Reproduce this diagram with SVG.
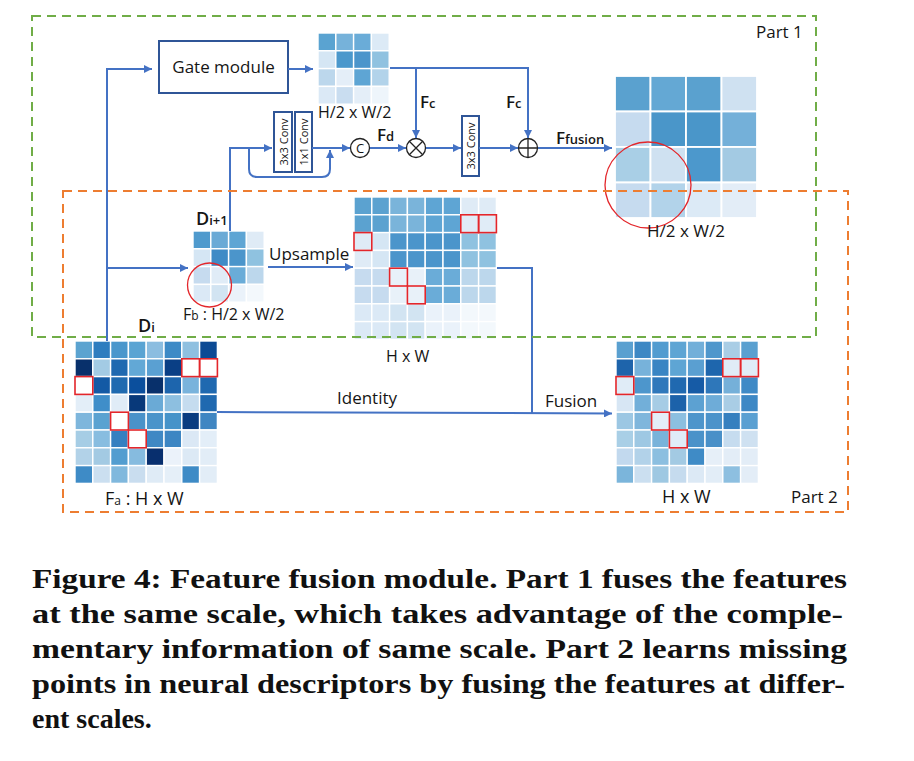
<svg xmlns="http://www.w3.org/2000/svg" width="914" height="761" viewBox="0 0 914 761">
<defs>
<style>
.c{width:17.8px;height:17.8px;stroke:#fff;stroke-width:1.4}
.cb{width:35.5px;height:35.5px;stroke:#fff;stroke-width:1.8}
.r{width:17.8px;height:17.8px;fill:none;stroke:#e3262b;stroke-width:1.6}
.ln{fill:none;stroke:#4472c4;stroke-width:2}
.box{fill:#fff;stroke:#2f5597;stroke-width:2}
.t{font-family:"Open Sans","Liberation Sans",sans-serif;fill:#151515}
.b{font-weight:600}
.cap{font-family:"Liberation Serif",serif;font-weight:bold;font-size:28px;fill:#111}
.circ{fill:none;stroke:#e3262b;stroke-width:1.3}
.op{fill:#fff;stroke:#222;stroke-width:1.3}
</style>
<marker id="ah" viewBox="0 0 10 10" refX="10" refY="5" markerWidth="4" markerHeight="4" orient="auto" markerUnits="strokeWidth">
<path d="M0,0 L10,5 L0,10 z" fill="#4472c4"/>
</marker>
</defs>
<rect width="914" height="761" fill="#fff"/>

<!-- Gate module -->
<g id="gate">
<rect class="box" x="159" y="41" width="129" height="52"/>
<text class="t" x="223.5" y="73" font-size="17" text-anchor="middle">Gate module</text>
</g>

<!-- top small matrix -->
<g id="gate-out" transform="translate(318,33)">
<g><rect class="c" x="0" fill="#5aa3d1"/><rect class="c" x="17.8" fill="#76b2da"/><rect class="c" x="35.6" fill="#6aacd8"/><rect class="c" x="53.4" fill="#dceaf6"/></g>
<g transform="translate(0,17.8)"><rect class="c" x="0" fill="#d5e6f4"/><rect class="c" x="17.8" fill="#4b98cc"/><rect class="c" x="35.6" fill="#4b95cb"/><rect class="c" x="53.4" fill="#90c2e0"/></g>
<g transform="translate(0,35.6)"><rect class="c" x="0" fill="#bcd7ec"/><rect class="c" x="17.8" fill="#e4eef8"/><rect class="c" x="35.6" fill="#5ea5d4"/><rect class="c" x="53.4" fill="#b2d3ea"/></g>
<g transform="translate(0,53.4)"><rect class="c" x="0" fill="#dbe9f6"/><rect class="c" x="17.8" fill="#c9ddf0"/><rect class="c" x="35.6" fill="#e4eef8"/><rect class="c" x="53.4" fill="#eef5fb"/></g>
<text class="t" x="0" y="85" font-size="16">H/2 x W/2</text>
</g>

<!-- conv boxes -->
<g id="conv3x3a">
<rect class="box" x="274" y="112" width="18" height="60"/>
<text class="t" transform="translate(283,142) rotate(-90)" font-size="11" text-anchor="middle" dominant-baseline="central">3x3 Conv</text>
</g>
<g id="conv1x1">
<rect class="box" x="295" y="112" width="17" height="60"/>
<text class="t" transform="translate(303.5,142) rotate(-90)" font-size="11" text-anchor="middle" dominant-baseline="central">1x1 Conv</text>
</g>
<g id="conv3x3b">
<rect class="box" x="462" y="116" width="17" height="60"/>
<text class="t" transform="translate(470.5,146) rotate(-90)" font-size="11" text-anchor="middle" dominant-baseline="central">3x3 Conv</text>
</g>

<!-- operators -->
<g id="concat">
<circle class="op" cx="360" cy="148" r="9.5"/>
<text class="t" x="360" y="148" font-size="13" text-anchor="middle" dominant-baseline="central">C</text>
</g>
<g id="mult">
<circle class="op" cx="416" cy="148" r="9.5"/>
<path d="M409.3,141.3 L422.7,154.7 M422.7,141.3 L409.3,154.7" stroke="#222" stroke-width="1.3"/>
</g>
<g id="add">
<circle class="op" cx="528" cy="148" r="9.5"/>
<path d="M518.5,148 L537.5,148 M528,138.5 L528,157.5" stroke="#222" stroke-width="1.3"/>
</g>

<!-- big fusion matrix -->
<g id="fusion-out" transform="translate(615,76)">
<g><rect class="cb" x="0" fill="#5aa1cf"/><rect class="cb" x="35.5" fill="#64a8d4"/><rect class="cb" x="71" fill="#5aa1cf"/><rect class="cb" x="106.5" fill="#cfe1f1"/></g>
<g transform="translate(0,35.5)"><rect class="cb" x="0" fill="#c6dbef"/><rect class="cb" x="35.5" fill="#4a96c9"/><rect class="cb" x="71" fill="#4a96c9"/><rect class="cb" x="106.5" fill="#74b0d9"/></g>
<g transform="translate(0,71)"><rect class="cb" x="0" fill="#a9cfe6"/><rect class="cb" x="35.5" fill="#cfe1f1"/><rect class="cb" x="71" fill="#4c98cc"/><rect class="cb" x="106.5" fill="#a3cae3"/></g>
<g transform="translate(0,106.5)"><rect class="cb" x="0" fill="#c6dbef"/><rect class="cb" x="35.5" fill="#b2d3ea"/><rect class="cb" x="71" fill="#dceaf6"/><rect class="cb" x="106.5" fill="#e3edf7"/></g>
<circle class="circ" cx="33" cy="109" r="43"/>
<text class="t" x="32" y="161" font-size="17">H/2 x W/2</text>
</g>

<!-- D i+1 matrix -->
<g id="d-i1" transform="translate(193,231)">
<g><rect class="c" x="0" fill="#4f9acd"/><rect class="c" x="17.8" fill="#6aaad6"/><rect class="c" x="35.6" fill="#5ea5d4"/><rect class="c" x="53.4" fill="#dfebf6"/></g>
<g transform="translate(0,17.8)"><rect class="c" x="0" fill="#d5e6f4"/><rect class="c" x="17.8" fill="#3f8bc6"/><rect class="c" x="35.6" fill="#4b95cb"/><rect class="c" x="53.4" fill="#8fc2e0"/></g>
<g transform="translate(0,35.6)"><rect class="c" x="0" fill="#c6dbef"/><rect class="c" x="17.8" fill="#e0ecf7"/><rect class="c" x="35.6" fill="#6aacd8"/><rect class="c" x="53.4" fill="#bcd7ec"/></g>
<g transform="translate(0,53.4)"><rect class="c" x="0" fill="#dbe9f6"/><rect class="c" x="17.8" fill="#d2e4f2"/><rect class="c" x="35.6" fill="#eaf2fa"/><rect class="c" x="53.4" fill="#f3f8fc"/></g>
<circle class="circ" cx="16.5" cy="54" r="22"/>
<text class="t b" x="3" y="-6"><tspan font-size="18">D</tspan><tspan font-size="13">i+1</tspan></text>
<text class="t" x="-10" y="89"><tspan font-size="16">F</tspan><tspan font-size="12">b</tspan><tspan font-size="16"> : H/2 x W/2</tspan></text>
</g>

<!-- upsampled matrix -->
<g id="upsampled" transform="translate(354,197)">
<g><rect class="c" x="0" fill="#5ba2d0"/><rect class="c" x="17.8" fill="#5ba2d0"/><rect class="c" x="35.6" fill="#7ab4da"/><rect class="c" x="53.4" fill="#7ab4da"/><rect class="c" x="71.2" fill="#5ea5d4"/><rect class="c" x="89" fill="#5ea5d4"/><rect class="c" x="106.8" fill="#dfebf6"/><rect class="c" x="124.6" fill="#dfebf6"/></g>
<g transform="translate(0,17.8)"><rect class="c" x="0" fill="#5ba2d0"/><rect class="c" x="17.8" fill="#5ba2d0"/><rect class="c" x="35.6" fill="#7ab4da"/><rect class="c" x="53.4" fill="#7ab4da"/><rect class="c" x="71.2" fill="#5ea5d4"/><rect class="c" x="89" fill="#5ea5d4"/><rect class="c" x="106.8" fill="#e0ecf7"/><rect class="c" x="124.6" fill="#e0ecf7"/></g>
<g transform="translate(0,35.6)"><rect class="c" x="0" fill="#dfebf6"/><rect class="c" x="17.8" fill="#d5e6f4"/><rect class="c" x="35.6" fill="#4b95cb"/><rect class="c" x="53.4" fill="#4b95cb"/><rect class="c" x="71.2" fill="#4b95cb"/><rect class="c" x="89" fill="#4b95cb"/><rect class="c" x="106.8" fill="#8fc2e0"/><rect class="c" x="124.6" fill="#8fc2e0"/></g>
<g transform="translate(0,53.4)"><rect class="c" x="0" fill="#dfebf6"/><rect class="c" x="17.8" fill="#d5e6f4"/><rect class="c" x="35.6" fill="#4b95cb"/><rect class="c" x="53.4" fill="#4b95cb"/><rect class="c" x="71.2" fill="#4b95cb"/><rect class="c" x="89" fill="#4b95cb"/><rect class="c" x="106.8" fill="#8fc2e0"/><rect class="c" x="124.6" fill="#8fc2e0"/></g>
<g transform="translate(0,71.2)"><rect class="c" x="0" fill="#c6dbef"/><rect class="c" x="17.8" fill="#c6dbef"/><rect class="c" x="35.6" fill="#e8f1f9"/><rect class="c" x="53.4" fill="#e8f1f9"/><rect class="c" x="71.2" fill="#6aacd8"/><rect class="c" x="89" fill="#6aacd8"/><rect class="c" x="106.8" fill="#bcd7ec"/><rect class="c" x="124.6" fill="#bcd7ec"/></g>
<g transform="translate(0,89)"><rect class="c" x="0" fill="#c6dbef"/><rect class="c" x="17.8" fill="#c6dbef"/><rect class="c" x="35.6" fill="#e8f1f9"/><rect class="c" x="53.4" fill="#e8f1f9"/><rect class="c" x="71.2" fill="#6aacd8"/><rect class="c" x="89" fill="#6aacd8"/><rect class="c" x="106.8" fill="#bcd7ec"/><rect class="c" x="124.6" fill="#bcd7ec"/></g>
<g transform="translate(0,106.8)"><rect class="c" x="0" fill="#dbe9f6"/><rect class="c" x="17.8" fill="#dbe9f6"/><rect class="c" x="35.6" fill="#d2e4f2"/><rect class="c" x="53.4" fill="#d2e4f2"/><rect class="c" x="71.2" fill="#eaf2fa"/><rect class="c" x="89" fill="#eaf2fa"/><rect class="c" x="106.8" fill="#f3f8fc"/><rect class="c" x="124.6" fill="#f3f8fc"/></g>
<g transform="translate(0,124.6)"><rect class="c" x="0" fill="#dbe9f6"/><rect class="c" x="17.8" fill="#dbe9f6"/><rect class="c" x="35.6" fill="#d2e4f2"/><rect class="c" x="53.4" fill="#d2e4f2"/><rect class="c" x="71.2" fill="#eaf2fa"/><rect class="c" x="89" fill="#eaf2fa"/><rect class="c" x="106.8" fill="#f3f8fc"/><rect class="c" x="124.6" fill="#f3f8fc"/></g>
<rect class="r" x="106.8" y="17.8"/><rect class="r" x="124.6" y="17.8"/><rect class="r" x="0" y="35.6"/><rect class="r" x="35.6" y="71.2"/><rect class="r" x="53.4" y="89"/>
<text class="t" x="32" y="165" font-size="16">H x W</text>
</g>

<!-- D i matrix -->
<g id="d-i" transform="translate(75,341)">
<g><rect class="c" x="0" fill="#5ba3d0"/><rect class="c" x="17.8" fill="#2e7dbf"/><rect class="c" x="35.6" fill="#4a97cc"/><rect class="c" x="53.4" fill="#5aa4d3"/><rect class="c" x="71.2" fill="#8bbde0"/><rect class="c" x="89" fill="#3d8ac6"/><rect class="c" x="106.8" fill="#8fc0e0"/><rect class="c" x="124.6" fill="#0c4a94"/></g>
<g transform="translate(0,17.8)"><rect class="c" x="0" fill="#08306b"/><rect class="c" x="17.8" fill="#a3cbe4"/><rect class="c" x="35.6" fill="#1f69b0"/><rect class="c" x="53.4" fill="#62a8d6"/><rect class="c" x="71.2" fill="#5aa0d2"/><rect class="c" x="89" fill="#0a3f85"/><rect class="c" x="106.8" fill="#ffffff"/><rect class="c" x="124.6" fill="#ffffff"/></g>
<g transform="translate(0,35.6)"><rect class="c" x="0" fill="#ffffff"/><rect class="c" x="17.8" fill="#135aa5"/><rect class="c" x="35.6" fill="#1f6ab0"/><rect class="c" x="53.4" fill="#0b4f9d"/><rect class="c" x="71.2" fill="#08306b"/><rect class="c" x="89" fill="#1d65ad"/><rect class="c" x="106.8" fill="#79b3dc"/><rect class="c" x="124.6" fill="#1f69b0"/></g>
<g transform="translate(0,53.4)"><rect class="c" x="0" fill="#e3eef8"/><rect class="c" x="17.8" fill="#3f8ec9"/><rect class="c" x="35.6" fill="#e0ecf7"/><rect class="c" x="53.4" fill="#08397a"/><rect class="c" x="71.2" fill="#6aaad6"/><rect class="c" x="89" fill="#8dbfe0"/><rect class="c" x="106.8" fill="#c5dcef"/><rect class="c" x="124.6" fill="#1f69b0"/></g>
<g transform="translate(0,71.2)"><rect class="c" x="0" fill="#7eb6dc"/><rect class="c" x="17.8" fill="#5aa2d1"/><rect class="c" x="35.6" fill="#ffffff"/><rect class="c" x="53.4" fill="#4a92c9"/><rect class="c" x="71.2" fill="#4a94ca"/><rect class="c" x="89" fill="#4593c9"/><rect class="c" x="106.8" fill="#0a3c80"/><rect class="c" x="124.6" fill="#3f86c2"/></g>
<g transform="translate(0,89)"><rect class="c" x="0" fill="#a6cde5"/><rect class="c" x="17.8" fill="#88bde0"/><rect class="c" x="35.6" fill="#3580c0"/><rect class="c" x="53.4" fill="#ffffff"/><rect class="c" x="71.2" fill="#3f88c4"/><rect class="c" x="89" fill="#3d86c3"/><rect class="c" x="106.8" fill="#dbe8f5"/><rect class="c" x="124.6" fill="#e3eef8"/></g>
<g transform="translate(0,106.8)"><rect class="c" x="0" fill="#b2d2e8"/><rect class="c" x="17.8" fill="#a3cae3"/><rect class="c" x="35.6" fill="#529dd0"/><rect class="c" x="53.4" fill="#86bbdf"/><rect class="c" x="71.2" fill="#082f6e"/><rect class="c" x="89" fill="#ebf2fa"/><rect class="c" x="106.8" fill="#dce9f5"/><rect class="c" x="124.6" fill="#e2edf7"/></g>
<g transform="translate(0,124.6)"><rect class="c" x="0" fill="#3e8bc6"/><rect class="c" x="17.8" fill="#cbdff0"/><rect class="c" x="35.6" fill="#80b8dd"/><rect class="c" x="53.4" fill="#c9ddef"/><rect class="c" x="71.2" fill="#dfebf6"/><rect class="c" x="89" fill="#e5eff8"/><rect class="c" x="106.8" fill="#3e8bc6"/><rect class="c" x="124.6" fill="#e2edf7"/></g>
<rect class="r" x="106.8" y="17.8"/><rect class="r" x="124.6" y="17.8"/><rect class="r" x="0" y="35.6"/><rect class="r" x="35.6" y="71.2"/><rect class="r" x="53.4" y="89"/>
<text class="t b" x="63" y="-9"><tspan font-size="18">D</tspan><tspan font-size="13">i</tspan></text>
<text class="t" x="30" y="164"><tspan font-size="18">F</tspan><tspan font-size="12">a</tspan><tspan font-size="18"> : H x W</tspan></text>
</g>

<!-- fused output matrix -->
<g id="fused" transform="translate(616,341)">
<g><rect class="c" x="0" fill="#5aa0d0"/><rect class="c" x="17.8" fill="#3d88c4"/><rect class="c" x="35.6" fill="#529cd0"/><rect class="c" x="53.4" fill="#5ea5d4"/><rect class="c" x="71.2" fill="#72afd9"/><rect class="c" x="89" fill="#4f97cc"/><rect class="c" x="106.8" fill="#a9cde5"/><rect class="c" x="124.6" fill="#5aa0d0"/></g>
<g transform="translate(0,17.8)"><rect class="c" x="0" fill="#1e64ab"/><rect class="c" x="17.8" fill="#77b2da"/><rect class="c" x="35.6" fill="#3a85c3"/><rect class="c" x="53.4" fill="#5ea5d4"/><rect class="c" x="71.2" fill="#5a9fd1"/><rect class="c" x="89" fill="#1e66ad"/><rect class="c" x="106.8" fill="#e0ecf7"/><rect class="c" x="124.6" fill="#e0ecf7"/></g>
<g transform="translate(0,35.6)"><rect class="c" x="0" fill="#e0ecf7"/><rect class="c" x="17.8" fill="#4d96cc"/><rect class="c" x="35.6" fill="#2f78bb"/><rect class="c" x="53.4" fill="#2069b0"/><rect class="c" x="71.2" fill="#165ba6"/><rect class="c" x="89" fill="#2e77ba"/><rect class="c" x="106.8" fill="#75b0d9"/><rect class="c" x="124.6" fill="#3f8ac6"/></g>
<g transform="translate(0,53.4)"><rect class="c" x="0" fill="#d7e6f4"/><rect class="c" x="17.8" fill="#72afd9"/><rect class="c" x="35.6" fill="#a6cce5"/><rect class="c" x="53.4" fill="#1c62aa"/><rect class="c" x="71.2" fill="#5ca1d2"/><rect class="c" x="89" fill="#6eacd8"/><rect class="c" x="106.8" fill="#a9cde5"/><rect class="c" x="124.6" fill="#3d88c5"/></g>
<g transform="translate(0,71.2)"><rect class="c" x="0" fill="#9cc7e3"/><rect class="c" x="17.8" fill="#7fb6dc"/><rect class="c" x="35.6" fill="#e4eef8"/><rect class="c" x="53.4" fill="#8cbfe0"/><rect class="c" x="71.2" fill="#4d95cb"/><rect class="c" x="89" fill="#4b93ca"/><rect class="c" x="106.8" fill="#3680bf"/><rect class="c" x="124.6" fill="#5aa0d2"/></g>
<g transform="translate(0,89)"><rect class="c" x="0" fill="#a9cfe6"/><rect class="c" x="17.8" fill="#9ec8e3"/><rect class="c" x="35.6" fill="#79b3da"/><rect class="c" x="53.4" fill="#e0ecf7"/><rect class="c" x="71.2" fill="#4a92c9"/><rect class="c" x="89" fill="#4990c8"/><rect class="c" x="106.8" fill="#c6dcef"/><rect class="c" x="124.6" fill="#cfe1f1"/></g>
<g transform="translate(0,106.8)"><rect class="c" x="0" fill="#c2d9ee"/><rect class="c" x="17.8" fill="#b2d2e9"/><rect class="c" x="35.6" fill="#8cbfe0"/><rect class="c" x="53.4" fill="#a3cae3"/><rect class="c" x="71.2" fill="#3f8bc6"/><rect class="c" x="89" fill="#e6eff8"/><rect class="c" x="106.8" fill="#e3edf7"/><rect class="c" x="124.6" fill="#e3edf7"/></g>
<g transform="translate(0,124.6)"><rect class="c" x="0" fill="#7bb5db"/><rect class="c" x="17.8" fill="#cbdff0"/><rect class="c" x="35.6" fill="#9ec8e2"/><rect class="c" x="53.4" fill="#c5dbee"/><rect class="c" x="71.2" fill="#dce9f5"/><rect class="c" x="89" fill="#e2edf7"/><rect class="c" x="106.8" fill="#8dbfe0"/><rect class="c" x="124.6" fill="#e3edf7"/></g>
<rect class="r" x="106.8" y="17.8"/><rect class="r" x="124.6" y="17.8"/><rect class="r" x="0" y="35.6"/><rect class="r" x="35.6" y="71.2"/><rect class="r" x="53.4" y="89"/>
<text class="t" x="46" y="162" font-size="18">H x W</text>
</g>

<!-- connectors -->
<g id="connectors">
<path class="ln" d="M107,341 L107,69 L152,69" marker-end="url(#ah)"/>
<path class="ln" d="M107,268 L188,268" marker-end="url(#ah)"/>
<path class="ln" d="M288,69 L313,69" marker-end="url(#ah)"/>
<path class="ln" d="M390,68 L528,68 L528,138" marker-end="url(#ah)"/>
<path class="ln" d="M416,68 L416,138" marker-end="url(#ah)"/>
<path class="ln" d="M230,231 L230,148 L272,148" marker-end="url(#ah)"/>
<path class="ln" d="M249,148 L249,169 Q249,177 257,177 L322,177 Q330,177 330,169 L330,150" marker-end="url(#ah)"/>
<path class="ln" d="M312,148 L350,148" marker-end="url(#ah)"/>
<path class="ln" d="M370,148 L406,148" marker-end="url(#ah)"/>
<path class="ln" d="M426,148 L461,148" marker-end="url(#ah)"/>
<path class="ln" d="M479,148 L518,148" marker-end="url(#ah)"/>
<path class="ln" d="M538,148 L612,148" marker-end="url(#ah)"/>
<path class="ln" d="M268,267 L353,267" marker-end="url(#ah)"/>
<path class="ln" d="M497,268 L532,268 L532,413"/>
<path class="ln" d="M217,412 L612,413.5" marker-end="url(#ah)"/>
<text class="t b" x="420" y="108"><tspan font-size="17">F</tspan><tspan font-size="13">c</tspan></text>
<text class="t b" x="506" y="108"><tspan font-size="17">F</tspan><tspan font-size="13">c</tspan></text>
<text class="t b" x="377" y="141"><tspan font-size="17">F</tspan><tspan font-size="13">d</tspan></text>
<text class="t b" x="556" y="144"><tspan font-size="17">F</tspan><tspan font-size="13">fusion</tspan></text>
<text class="t" x="269" y="260" font-size="17">Upsample</text>
<text class="t" x="337" y="404" font-size="17">Identity</text>
<text class="t" x="545" y="407" font-size="17">Fusion</text>
</g>

<!-- part boxes -->
<g id="part1">
<rect x="32" y="16" width="784" height="321" fill="none" stroke="#70ad47" stroke-width="2" stroke-dasharray="9 6"/>
<text class="t" x="756" y="38" font-size="17">Part 1</text>
</g>
<g id="part2">
<rect x="63" y="191" width="785" height="321" fill="none" stroke="#ed7d31" stroke-width="2" stroke-dasharray="9 6"/>
<text class="t" x="791" y="503" font-size="17">Part 2</text>
</g>

<!-- caption -->
<g id="caption">
<text class="cap" x="32" y="588" textLength="815" lengthAdjust="spacingAndGlyphs">Figure 4: Feature fusion module. Part 1 fuses the features</text>
<text class="cap" x="32" y="623" textLength="811" lengthAdjust="spacingAndGlyphs">at the same scale, which takes advantage of the comple-</text>
<text class="cap" x="32" y="658" textLength="815" lengthAdjust="spacingAndGlyphs">mentary information of same scale. Part 2 learns missing</text>
<text class="cap" x="32" y="693" textLength="813" lengthAdjust="spacingAndGlyphs">points in neural descriptors by fusing the features at differ-</text>
<text class="cap" x="32" y="728">ent scales.</text>
</g>
</svg>
